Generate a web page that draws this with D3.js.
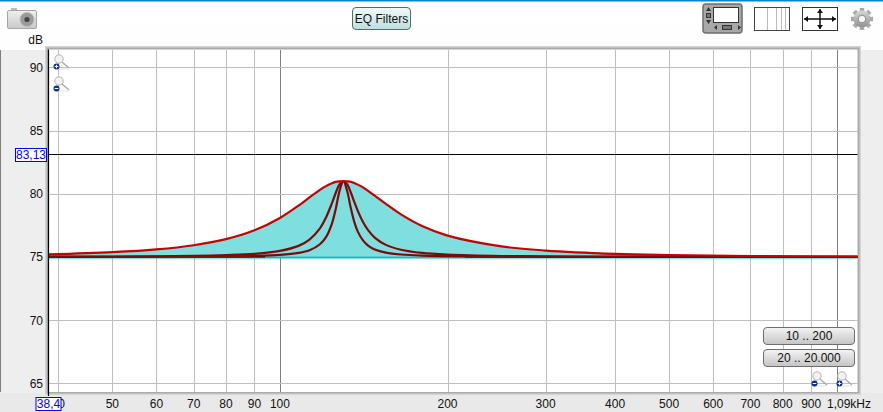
<!DOCTYPE html>
<html>
<head>
<meta charset="utf-8">
<script src="https://d3js.org/d3.v7.min.js"></script>
<style>
  html, body { margin: 0; padding: 0; background: #fff; overflow: hidden; }
  text { font-family: "Liberation Sans", Arial, sans-serif; font-size: 12px; fill: #111; }
</style>
</head>
<body>
<svg id="chart" width="883" height="412"></svg>
<script>
// Frequenzen in Hz und Pegel in dB
const freqs = [38.4, 50, 60, 70, 80, 90, 100, 108, 113, 118, 121, 124, 126, 128, 130, 132, 134, 136, 138, 141, 144, 148, 155, 165, 180, 200, 250, 300, 400, 500, 700, 1090];
const wideFilter = [75.19, 75.37, 75.59, 75.92, 76.4, 77.1, 78.08, 79.06, 79.71, 80.3, 80.6, 80.83, 80.94, 80.98, 81, 80.98, 80.95, 80.85, 80.72, 80.5, 80.23, 79.85, 79.2, 78.36, 77.44, 76.68, 75.83, 75.5, 75.24, 75.15, 75.07, 75.03];
const midFilter = [75.02, 75.03, 75.05, 75.08, 75.14, 75.24, 75.47, 75.87, 76.37, 77.26, 78.12, 79.25, 80.08, 80.75, 81, 80.76, 80.12, 79.36, 78.64, 77.76, 77.12, 76.53, 75.95, 75.56, 75.31, 75.18, 75.07, 75.04, 75.02, 75.01, 75.01, 75];
const narrowFilter = [75.01, 75.01, 75.02, 75.03, 75.04, 75.08, 75.16, 75.31, 75.52, 76, 76.56, 77.64, 78.82, 80.25, 81, 80.26, 78.9, 77.77, 77, 76.3, 75.89, 75.59, 75.34, 75.19, 75.1, 75.06, 75.02, 75.01, 75.01, 75, 75, 75];

const xTicks = [40, 50, 60, 70, 80, 90, 100, 200, 300, 400, 500, 600, 700, 800, 900, 1000];
const xMajor = [100, 1000];
const yTicks = [65, 70, 75, 80, 85, 90];
const baseLevel = 75;
const targetLevel = 83.13;
// schwarze Summenkurve ist nur ausserhalb der Glocke sichtbar
const flatRuns = [[38.4, 94], [215, 1090]];
const rangeButtons = ["10 .. 200", "20 .. 20.000"];

const svg = d3.select("#chart");
const defs = svg.append("defs");

function gradient(id, stops) {
  const g = defs.append("linearGradient").attr("id", id).attr("x1", 0).attr("x2", 0).attr("y1", 0).attr("y2", 1);
  stops.forEach((c, i) => g.append("stop").attr("offset", i / (stops.length - 1)).attr("stop-color", c));
}
gradient("chrome", ["#ffffff", "#fafafa", "#f4f4f4"]);
gradient("btn", ["#f4f4f4", "#dcdcdc", "#c4c4c4"]);
gradient("eqBtn", ["#f2fbfb", "#d8ecec", "#bfdcdc"]);
gradient("cam", ["#f0f0f0", "#c8c8c8"]);
gradient("gearFill", ["#d8d8d8", "#8f8f8f"]);

const x = d3.scaleLog().domain([38.4, 1090]).range([48.5, 857.5]);
const y = d3.scaleLinear().domain([64.3, 91.46]).range([392, 49]);

// Hintergrund
svg.append("rect").attr("width", 883).attr("height", 412).attr("fill", "url(#chrome)");
svg.append("rect").attr("width", 883).attr("height", 1.5).attr("fill", "#0a84c8");
svg.append("rect").attr("x", 1).attr("y", 50).attr("width", 44).attr("height", 362).attr("fill", "#eeeeee");
svg.append("rect").attr("x", 0).attr("y", 50).attr("width", 1).attr("height", 342).attr("fill", "#808080");
svg.append("rect").attr("x", 0).attr("y", 393).attr("width", 883).attr("height", 19).attr("fill", "#e9e9e9");
svg.append("rect").attr("x", 861).attr("y", 50).attr("width", 22).attr("height", 343).attr("fill", "#eeeeee");

// Schatten und Plotflaeche
svg.append("rect").attr("x", 45).attr("y", 46).attr("width", 816).attr("height", 349).attr("fill", "#d4d4d4");
svg.append("rect").attr("x", 46.5).attr("y", 47.5).attr("width", 813).attr("height", 346).attr("fill", "#ababab");
svg.append("rect").attr("x", 48.5).attr("y", 49.5).attr("width", 809).attr("height", 342.5).attr("fill", "#fff");

const plot = svg.append("g");

plot.selectAll(".gx").data(xTicks).join("line")
  .attr("class", "gx")
  .attr("x1", (d) => Math.round(x(d)) + 0.5).attr("x2", (d) => Math.round(x(d)) + 0.5)
  .attr("y1", 50).attr("y2", 392)
  .attr("stroke", (d) => (xMajor.includes(d) ? "#808080" : "#bebebe"))
  .attr("stroke-width", 1);

plot.selectAll(".gy").data(yTicks).join("line")
  .attr("class", "gy")
  .attr("x1", 49).attr("x2", 857.5)
  .attr("y1", (d) => Math.round(y(d)) + 0.5).attr("y2", (d) => Math.round(y(d)) + 0.5)
  .attr("stroke", "#bebebe");

// Gefuellte Flaeche unter dem breiten Filter
const rows = freqs.map((f, i) => ({ f, wide: wideFilter[i], mid: midFilter[i], narrow: narrowFilter[i] }));

const area = d3.area().curve(d3.curveCatmullRom.alpha(0.5))
  .x((d) => x(d.f)).y0(y(baseLevel)).y1((d) => y(d.wide));
plot.append("path").datum(rows).attr("d", area).attr("fill", "#7fdfdf");

plot.append("line")
  .attr("x1", 49).attr("x2", 857.5)
  .attr("y1", y(baseLevel) + 0.6).attr("y2", y(baseLevel) + 0.6)
  .attr("stroke", "#00bfbf").attr("stroke-width", 2);

plot.selectAll(".flat").data(flatRuns).join("line")
  .attr("class", "flat")
  .attr("x1", (d) => x(d[0])).attr("x2", (d) => x(d[1]))
  .attr("y1", y(baseLevel)).attr("y2", y(baseLevel))
  .attr("stroke", "#111").attr("stroke-width", 1.5);

function curveLine(key) {
  return d3.line().curve(d3.curveCatmullRom.alpha(0.5)).x((d) => x(d.f)).y((d) => y(d[key]));
}

["mid", "narrow"].forEach((key) => {
  plot.append("path").datum(rows).attr("d", curveLine(key))
    .attr("fill", "none").attr("stroke", "#7d0a0a").attr("stroke-width", 2.2);
});
plot.append("path").datum(rows).attr("d", curveLine("wide"))
  .attr("fill", "none").attr("stroke", "#c40000").attr("stroke-width", 2.2);

// Ziellinie
plot.append("line")
  .attr("x1", 49).attr("x2", 857.5)
  .attr("y1", Math.round(y(targetLevel)) + 0.5).attr("y2", Math.round(y(targetLevel)) + 0.5)
  .attr("stroke", "#000").attr("stroke-width", 1);

// linke Achse
svg.append("line").attr("x1", 48.5).attr("x2", 48.5).attr("y1", 49.5).attr("y2", 396)
  .attr("stroke", "#000").attr("stroke-width", 1.2);

// Beschriftung
svg.selectAll(".ylab").data(yTicks).join("text")
  .attr("class", "ylab")
  .attr("x", 43).attr("y", (d) => y(d) + 4.5)
  .attr("text-anchor", "end")
  .text((d) => d);
svg.append("text").attr("x", 43).attr("y", 44).attr("text-anchor", "end").text("dB");

svg.selectAll(".xlab").data(xTicks.filter((d) => d < 1000)).join("text")
  .attr("class", "xlab")
  .attr("x", (d) => x(d)).attr("y", 408)
  .attr("text-anchor", "middle")
  .text((d) => d);
svg.append("text").attr("x", 871).attr("y", 408).attr("text-anchor", "end").text("1,09kHz");

function valueBox(bx, by, w, label) {
  svg.append("rect").attr("x", bx + 0.5).attr("y", by + 0.5).attr("width", w).attr("height", 13)
    .attr("fill", "#fff").attr("stroke", "#0000ff");
  svg.append("text").attr("x", bx + w / 2 + 0.5).attr("y", by + 11).attr("text-anchor", "middle")
    .style("fill", "#0000ff").text(label);
}
valueBox(15, 148, 31, "83,13");
valueBox(35.5, 397, 25, "38,4");

// Knoepfe
function button(bx, by, w, h, label, fill, stroke) {
  svg.append("rect").attr("x", bx + 0.5).attr("y", by + 0.5).attr("width", w).attr("height", h).attr("rx", 3.5)
    .attr("fill", fill).attr("stroke", stroke);
  svg.append("text").attr("x", bx + w / 2 + 0.5).attr("y", by + h / 2 + 4.5).attr("text-anchor", "middle").text(label);
}
button(352, 7, 58, 22, "EQ Filters", "url(#eqBtn)", "#4f6f6f");
rangeButtons.forEach((label, i) => button(763, 327 + i * 22, 91, 17, label, "url(#btn)", "#6e6e6e"));

// Lupen
function magnifier(cx, cy, plus) {
  const g = svg.append("g").attr("transform", `translate(${cx},${cy})`);
  g.append("line").attr("x1", 3).attr("y1", 3).attr("x2", 10).attr("y2", 9).attr("stroke", "#a8a8a8").attr("stroke-width", 1.3);
  g.append("path").attr("d", "M-4,10H10").attr("stroke", "#e2e2e2").attr("stroke-width", 1);
  g.append("circle").attr("r", 4.2).attr("fill", "#f2f2f2").attr("stroke", "#b5b5b5");
  g.append("circle").attr("cx", -2.5).attr("cy", 7.5).attr("r", 3).attr("fill", "#0a2f8a");
  g.append("path").attr("d", plus ? "M-4.3,7.5H-0.7M-2.5,5.7V9.3" : "M-4.3,7.5H-0.7")
    .attr("stroke", "#fff").attr("stroke-width", 1.1);
}
magnifier(59, 59, true);
magnifier(59, 81, false);
magnifier(817, 376, false);
magnifier(842, 376, true);

// Kamera
const cam = svg.append("g");
cam.append("rect").attr("x", 11).attr("y", 8).attr("width", 6).attr("height", 3).attr("fill", "#bbb");
cam.append("rect").attr("x", 7.5).attr("y", 10.5).attr("width", 29).attr("height", 18).attr("rx", 1.5)
  .attr("fill", "url(#cam)").attr("stroke", "#a5a5a5");
cam.append("circle").attr("cx", 27).attr("cy", 19.5).attr("r", 7).attr("fill", "#9a9a9a").attr("stroke", "#bcbcbc");
cam.append("circle").attr("cx", 27).attr("cy", 19.5).attr("r", 2.6).attr("fill", "#444");

// Ansicht-Symbole oben rechts
const viewA = svg.append("g");
viewA.append("rect").attr("x", 703).attr("y", 4).attr("width", 39).attr("height", 29).attr("rx", 3)
  .attr("fill", "#a8a8a8").attr("stroke", "#6e6e6e").attr("stroke-width", 1.5);
viewA.append("rect").attr("x", 713.5).attr("y", 7.5).attr("width", 25).attr("height", 15).attr("fill", "#fff").attr("stroke", "#333");
viewA.append("rect").attr("x", 706.5).attr("y", 13.5).attr("width", 4).attr("height", 4).attr("fill", "#777").attr("stroke", "#333");
viewA.append("rect").attr("x", 722.5).attr("y", 25.5).attr("width", 9).attr("height", 4).attr("fill", "#777").attr("stroke", "#333");
viewA.append("path").attr("d", "M708.5,7L706,11H711ZM708.5,24L706,20H711ZM714,27.5L717,25V30ZM741,27.5L738,25V30Z").attr("fill", "#333");

const viewB = svg.append("g");
viewB.append("rect").attr("x", 754.5).attr("y", 7.5).attr("width", 35).attr("height", 23).attr("fill", "#fff").attr("stroke", "#444");
viewB.selectAll("line").data([767, 776, 781, 785]).join("line")
  .attr("x1", (d) => d + 0.5).attr("x2", (d) => d + 0.5).attr("y1", 8).attr("y2", 30).attr("stroke", "#bbb");

const viewC = svg.append("g");
viewC.append("rect").attr("x", 802.5).attr("y", 7.5).attr("width", 35).attr("height", 23).attr("fill", "#fff").attr("stroke", "#333");
viewC.append("path").attr("d", "M804,19H836M820,9V29").attr("stroke", "#111").attr("stroke-width", 1.5);
viewC.append("path").attr("d", "M804,19L808,16V22ZM836,19L832,16V22ZM820,9L817,13H823ZM820,29L817,25H823Z").attr("fill", "#111");

// Zahnrad
const gear = svg.append("g").attr("transform", "translate(862,19)");
gear.selectAll("line").data([0, 45, 90, 135]).join("line")
  .attr("x1", -11).attr("x2", 11)
  .attr("transform", (d) => `rotate(${d})`)
  .attr("stroke", "#a9a9a9").attr("stroke-width", 4.5);
gear.append("circle").attr("r", 8.5).attr("fill", "url(#gearFill)");
gear.append("circle").attr("r", 3.8).attr("fill", "#f5f5f5").attr("stroke", "#8d8d8d");
</script>
</body>
</html>
